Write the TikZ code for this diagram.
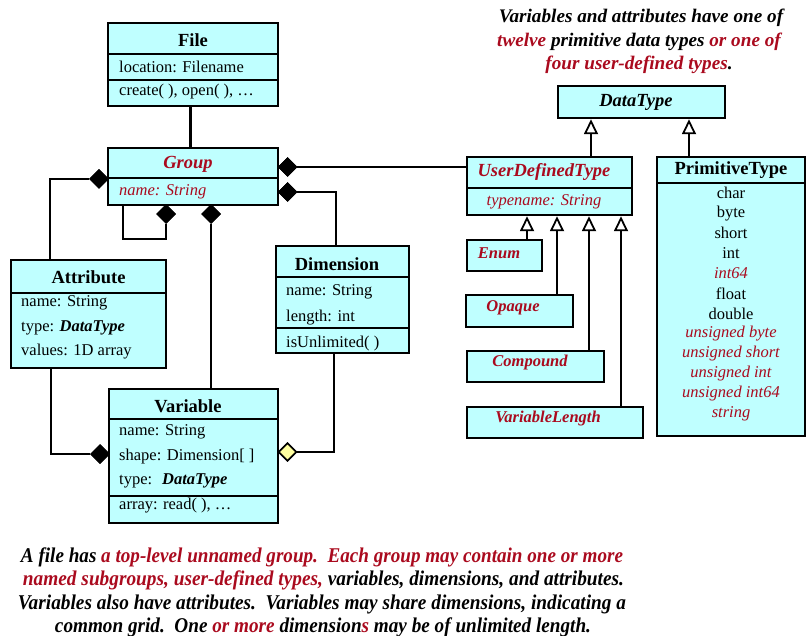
\documentclass[tikz,border=0pt]{standalone}
\usepackage{fontspec}
\setmainfont{Liberation Serif}
\usetikzlibrary{shapes.geometric,arrows.meta}
\definecolor{boxfill}{RGB}{191,255,255}
\definecolor{dred}{RGB}{170,10,30}
\definecolor{ydia}{RGB}{255,255,160}
\newcommand{\fs}{\fontsize{16.5}{19}\selectfont}
\newcommand{\tfs}{\fontsize{18.5}{21}\selectfont}
\newcommand{\capfs}{\fontsize{19.2}{22}\selectfont}
\newcommand{\bfs}{\fontsize{21}{24}\selectfont}
\newcommand{\bi}[1]{\textbf{\textit{#1}}}
\newcommand{\rd}[1]{\textcolor{dred}{#1}}
\begin{document}
\begin{tikzpicture}[x=1pt,y=-1pt,
  box/.style={draw, line width=2.5pt, fill=boxfill, inner sep=0, rectangle},
  div/.style={line width=2.3pt},
  conn/.style={line width=2pt},
  fdia/.style={diamond, fill=black, draw=black, line width=0.5pt, minimum width=19pt, minimum height=19pt, inner sep=0},
  hdia/.style={diamond, fill=ydia, draw=black, line width=1.6pt, minimum width=18pt, minimum height=18pt, inner sep=0},
  inh/.style={line width=2pt, -{Triangle[width=14pt,length=15pt,fill=white,line width=1.8pt]}},
  ttl/.style={font=\tfs\bfseries, inner sep=0},
  ttlit/.style={font=\tfs\bfseries\itshape, inner sep=0},
  rttl/.style={ttlit, text=dred},
  sttl/.style={font=\fs\bfseries\itshape, text=dred, inner sep=0},
  lbl/.style={font=\fs, anchor=west, inner sep=0},
  rlbl/.style={font=\fs\itshape, text=dred, anchor=west, inner sep=0},
  item/.style={font=\fs, inner sep=0},
  ritem/.style={font=\fs\itshape, text=dred, inner sep=0},
  toptxt/.style={font=\capfs\bfseries\itshape, inner sep=0},
  bottxt/.style={font=\bfs\bfseries\itshape, inner sep=0}
]
\useasboundingbox (0,0) rectangle (806,636);

% ---------- boxes ----------
\node[box, minimum width=170pt, minimum height=83pt] (file) at (193,64.5) {};
\draw[div] (108,54) -- (278,54);
\draw[div] (108,80) -- (278,80);
\node[ttl] (fileT) at (193,40) {File};
\node[lbl] (fileA) at (119,67) {location: Filename};
\node[lbl] (fileO) at (119,92) {create( ), open( ), …};

\node[box, minimum width=170pt, minimum height=57pt] (group) at (193,176.5) {};
\draw[div] (108,178) -- (278,178);
\node[rttl] (groupT) at (188,164) {Group};
\node[rlbl] (groupA) at (119,192) {name: String};

\node[box, minimum width=155pt, minimum height=108pt] (attr) at (88.5,314) {};
\draw[div] (11,293) -- (166,293);
\node[ttl] (attrT) at (88.5,277) {Attribute};
\node[lbl] (attrA1) at (21,303) {name: String};
\node[lbl] (attrA2) at (21,328) {type: \bi{DataType}};
\node[lbl] (attrA3) at (21,352) {values: 1D array};

\node[box, minimum width=133pt, minimum height=107pt] (dim) at (342.5,299.5) {};
\draw[div] (276,277) -- (409,277);
\draw[div] (276,328) -- (409,328);
\node[ttl] (dimT) at (337,264) {Dimension};
\node[lbl] (dimA1) at (286,292) {name: String};
\node[lbl] (dimA2) at (286,318) {length: int};
\node[lbl] (dimO) at (286,344) {isUnlimited( )};

\node[box, minimum width=169pt, minimum height=134pt] (var) at (193.5,456) {};
\draw[div] (109,419) -- (278,419);
\draw[div] (109,496) -- (278,496);
\node[ttl] (varT) at (188,406) {Variable};
\node[lbl] (varA1) at (119,432) {name: String};
\node[lbl] (varA2) at (119,457) {shape: Dimension[ ]};
\node[lbl] (varA3) at (119,481) {type:\hspace{10pt}\bi{DataType}};
\node[lbl] (varO) at (119,506) {array: read( ), …};

\node[box, minimum width=167pt, minimum height=32pt] (dt) at (641.5,102) {};
\node[ttlit] (dtT) at (636,102) {DataType};

\node[box, minimum width=165pt, minimum height=58pt] (udt) at (549.5,186) {};
\draw[div] (467,188) -- (632,188);
\node[rttl] (udtT) at (544,172) {UserDefinedType};
\node[ritem] (udtA) at (544,202) {typename: String};

\node[box, minimum width=75pt, minimum height=31pt] (enum) at (504.5,255.5) {};
\node[sttl] (enumT) at (499,253) {Enum};
\node[box, minimum width=107pt, minimum height=32pt] (opq) at (519.5,311) {};
\node[sttl] (opqT) at (513,308) {Opaque};
\node[box, minimum width=137pt, minimum height=31pt] (cmp) at (535.5,366.5) {};
\node[sttl] (cmpT) at (530,363) {Compound};
\node[box, minimum width=176pt, minimum height=31pt] (vl) at (555,422.5) {};
\node[sttl] (vlT) at (548,419) {VariableLength};

\node[box, minimum width=148pt, minimum height=279pt] (prim) at (731,296.5) {};
\draw[div] (657,183) -- (805,183);
\node[ttl] (primT) at (731,170) {PrimitiveType};
\node[item] (p1) at (731,193) {char};
\node[item] (p2) at (731,213.1) {byte};
\node[item] (p3) at (731,233.2) {short};
\node[item] (p4) at (731,253.3) {int};
\node[ritem] (p5) at (731,273.4) {int64};
\node[item] (p6) at (731,293.5) {float};
\node[item] (p7) at (731,313.6) {double};
\node[ritem] (p8) at (731,333.7) {unsigned byte};
\node[ritem] (p9) at (731,353.8) {unsigned short};
\node[ritem] (p10) at (731,373.9) {unsigned int};
\node[ritem] (p11) at (731,394) {unsigned int64};
\node[ritem] (p12) at (731,414.1) {string};

% ---------- connectors ----------
\draw[line width=3pt] ([xshift=-3pt]file.south) -- ([xshift=-3pt]group.north);

\node[fdia] (dGA) at (99,179) {};
\node[fdia] (dGU) at (287.5,167) {};
\node[fdia] (dGD) at (287.5,192) {};
\node[fdia] (dGG) at (166,214) {};
\node[fdia] (dGV) at (211,214) {};
\node[fdia] (dVA) at (100,454) {};
\node[hdia] (dVD) at (287.5,452) {};
\coordinate (loop) at (123,239);

\draw[conn] (dGA.west) -| ([xshift=-38.5pt]attr.north);
\draw[conn] (dGU.east) -- (dGU.east -| udt.west);
\draw[conn] (dGD.east) -| ([xshift=-6.5pt]dim.north);
\draw[conn] (dGG.south) |- (loop) -- (loop |- group.south);
\draw[conn] (dGV.south) -- (dGV.south |- var.north);
\draw[conn] ([xshift=-37.5pt]attr.south) |- (dVA.west);
\draw[conn] ([xshift=-8.5pt]dim.south) |- (dVD.east);

% redraw diamonds on top
\node[fdia] at (dGA) {};
\node[fdia] at (dGU) {};
\node[fdia] at (dGD) {};
\node[fdia] at (dGG) {};
\node[fdia] at (dGV) {};
\node[fdia] at (dVA) {};
\node[hdia] at (dVD) {};

% inheritance
\draw[inh] ([xshift=41.5pt]udt.north) -- ([xshift=41.5pt]udt.north |- dt.south);
\draw[inh] ([xshift=-42pt]prim.north) -- ([xshift=-42pt]prim.north |- dt.south);
\draw[inh] ([xshift=22.5pt]enum.north) -- ([xshift=22.5pt]enum.north |- udt.south);
\draw[inh] ([xshift=37.5pt]opq.north) -- ([xshift=37.5pt]opq.north |- udt.south);
\draw[inh] ([xshift=53.5pt]cmp.north) -- ([xshift=53.5pt]cmp.north |- udt.south);
\draw[inh] ([xshift=66pt]vl.north) -- ([xshift=66pt]vl.north |- udt.south);

% ---------- captions ----------
\node[toptxt] (t1) at (641,18) {Variables and attributes have one of};
\node[toptxt] (t2) at (639,42) {\rd{twelve} primitive data types \rd{or one of}};
\node[toptxt] (t3) at (639,65) {\rd{four user-defined types}.};

\node[bottxt] (b1) at (322,557) {\resizebox{602pt}{\height}{A file has \rd{a top-level unnamed group.\ \ Each group may contain one or more}}};
\node[bottxt] (b2) at (323.5,580.5) {\resizebox{601pt}{\height}{\rd{named subgroups, user-defined types,} variables, dimensions, and attributes.}};
\node[bottxt] (b3) at (322,604) {\resizebox{608pt}{\height}{Variables also have attributes.\ \ Variables may share dimensions, indicating a}};
\node[bottxt] (b4) at (323,627) {\resizebox{536pt}{\height}{common grid.\ \ One \rd{or more} dimension\rd{s} may be of unlimited length.}};
\end{tikzpicture}
\end{document}
